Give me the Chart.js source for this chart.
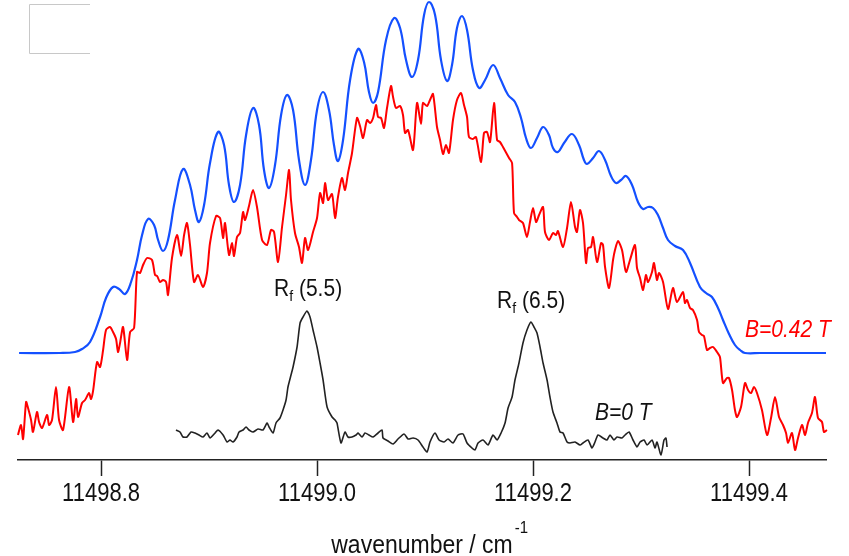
<!DOCTYPE html>
<html>
<head>
<meta charset="utf-8">
<script src="https://cdn.jsdelivr.net/npm/chart.js@4.4.1/dist/chart.umd.min.js"></script>
<style>
  html, body { margin: 0; padding: 0; background: #fff; }
  canvas { display: block; }
</style>
</head>
<body>
<canvas id="myChart" width="849" height="556"></canvas>
<script>
// simulated spectrum, B = 0.42 T (blue)
let simWavenumber = [11498.7241, 11498.7620, 11498.7759, 11498.7824, 11498.7898, 11498.7991, 11498.8046, 11498.8111, 11498.8167, 11498.8222,
    11498.8278, 11498.8333, 11498.8380, 11498.8435, 11498.8491, 11498.8528, 11498.8574, 11498.8620, 11498.8685, 11498.8759,
    11498.8824, 11498.8870, 11498.8907, 11498.8954, 11498.9009, 11498.9083, 11498.9139, 11498.9185, 11498.9231, 11498.9287,
    11498.9343, 11498.9407, 11498.9463, 11498.9509, 11498.9556, 11498.9611, 11498.9667, 11498.9722, 11498.9778, 11498.9833,
    11498.9889, 11498.9944, 11499.0000, 11499.0056, 11499.0111, 11499.0157, 11499.0194, 11499.0241, 11499.0306, 11499.0380,
    11499.0435, 11499.0481, 11499.0519, 11499.0565, 11499.0639, 11499.0713, 11499.0769, 11499.0824, 11499.0880, 11499.0935,
    11499.0991, 11499.1037, 11499.1093, 11499.1148, 11499.1204, 11499.1250, 11499.1296, 11499.1343, 11499.1389, 11499.1444,
    11499.1500, 11499.1556, 11499.1630, 11499.1694, 11499.1769, 11499.1833, 11499.1889, 11499.1935, 11499.1981, 11499.2037,
    11499.2093, 11499.2148, 11499.2185, 11499.2231, 11499.2287, 11499.2361, 11499.2426, 11499.2472, 11499.2500, 11499.2556,
    11499.2611, 11499.2667, 11499.2722, 11499.2769, 11499.2815, 11499.2861, 11499.2917, 11499.2972, 11499.3019, 11499.3065,
    11499.3111, 11499.3157, 11499.3204, 11499.3250, 11499.3315, 11499.3389, 11499.3454, 11499.3546, 11499.3602, 11499.3657,
    11499.3713, 11499.3759, 11499.3815, 11499.3870, 11499.3917, 11499.3963, 11499.4102, 11499.4713];
let simSignal = [107, 107, 108, 111, 118, 143, 162, 173, 171, 166,
    178, 200, 225, 241, 235, 220, 209, 220, 260, 291,
    275, 250, 238, 255, 297, 328, 315, 275, 258, 275,
    325, 352, 335, 290, 272, 295, 345, 365, 350, 300,
    275, 300, 350, 368, 350, 315, 299, 320, 380, 411,
    398, 368, 357, 368, 420, 442, 432, 400, 383, 400,
    445, 458, 445, 400, 379, 395, 432, 444, 430, 390,
    372, 380, 395, 382, 365, 358, 342, 322, 312, 322,
    333, 325, 312, 308, 317, 326, 315, 300, 296, 302,
    309, 300, 284, 277, 280, 284, 275, 258, 251, 253,
    252, 245, 232, 220, 214, 210, 197, 173, 167, 163,
    152, 140, 126, 115, 110, 107, 107, 107];

// measured spectrum, B = 0.42 T (red)
let expWavenumber = [11498.7231, 11498.7259, 11498.7278, 11498.7306, 11498.7324, 11498.7352, 11498.7370, 11498.7407, 11498.7426, 11498.7454,
    11498.7500, 11498.7519, 11498.7546, 11498.7583, 11498.7611, 11498.7648, 11498.7704, 11498.7741, 11498.7769, 11498.7787,
    11498.7824, 11498.7852, 11498.7889, 11498.7907, 11498.7926, 11498.7963, 11498.7991, 11498.8019, 11498.8046, 11498.8083,
    11498.8111, 11498.8139, 11498.8157, 11498.8176, 11498.8204, 11498.8241, 11498.8269, 11498.8306, 11498.8333, 11498.8361,
    11498.8389, 11498.8426, 11498.8472, 11498.8500, 11498.8519, 11498.8546, 11498.8574, 11498.8602, 11498.8620, 11498.8657,
    11498.8704, 11498.8741, 11498.8769, 11498.8796, 11498.8824, 11498.8861, 11498.8898, 11498.8944, 11498.8981, 11498.9009,
    11498.9065, 11498.9102, 11498.9130, 11498.9148, 11498.9185, 11498.9213, 11498.9231, 11498.9259, 11498.9287, 11498.9315,
    11498.9333, 11498.9370, 11498.9407, 11498.9444, 11498.9491, 11498.9537, 11498.9574, 11498.9602, 11498.9639, 11498.9676,
    11498.9713, 11498.9741, 11498.9759, 11498.9796, 11498.9833, 11498.9861, 11498.9889, 11498.9917, 11498.9963, 11499.0000,
    11499.0028, 11499.0056, 11499.0074, 11499.0102, 11499.0139, 11499.0167, 11499.0194, 11499.0231, 11499.0259, 11499.0287,
    11499.0324, 11499.0370, 11499.0398, 11499.0426, 11499.0463, 11499.0491, 11499.0519, 11499.0546, 11499.0565, 11499.0593,
    11499.0620, 11499.0648, 11499.0685, 11499.0704, 11499.0731, 11499.0769, 11499.0796, 11499.0815, 11499.0843, 11499.0889,
    11499.0926, 11499.0963, 11499.0981, 11499.1019, 11499.1046, 11499.1074, 11499.1111, 11499.1139, 11499.1167, 11499.1194,
    11499.1222, 11499.1259, 11499.1296, 11499.1333, 11499.1361, 11499.1389, 11499.1407, 11499.1444, 11499.1472, 11499.1519,
    11499.1546, 11499.1574, 11499.1602, 11499.1639, 11499.1667, 11499.1694, 11499.1722, 11499.1778, 11499.1806, 11499.1824,
    11499.1852, 11499.1870, 11499.1907, 11499.1944, 11499.1972, 11499.2000, 11499.2028, 11499.2056, 11499.2093, 11499.2111,
    11499.2148, 11499.2185, 11499.2213, 11499.2231, 11499.2278, 11499.2315, 11499.2352, 11499.2389, 11499.2407, 11499.2435,
    11499.2463, 11499.2491, 11499.2509, 11499.2537, 11499.2556, 11499.2593, 11499.2630, 11499.2648, 11499.2667, 11499.2704,
    11499.2741, 11499.2759, 11499.2787, 11499.2824, 11499.2861, 11499.2898, 11499.2944, 11499.2963, 11499.2991, 11499.3019,
    11499.3046, 11499.3065, 11499.3102, 11499.3120, 11499.3148, 11499.3167, 11499.3204, 11499.3250, 11499.3296, 11499.3333,
    11499.3389, 11499.3407, 11499.3426, 11499.3454, 11499.3481, 11499.3519, 11499.3537, 11499.3565, 11499.3583, 11499.3611,
    11499.3639, 11499.3667, 11499.3704, 11499.3731, 11499.3759, 11499.3796, 11499.3815, 11499.3843, 11499.3870, 11499.3889,
    11499.3926, 11499.3963, 11499.3991, 11499.4019, 11499.4046, 11499.4074, 11499.4120, 11499.4167, 11499.4204, 11499.4241,
    11499.4278, 11499.4315, 11499.4343, 11499.4361, 11499.4398, 11499.4426, 11499.4454, 11499.4491, 11499.4519, 11499.4546,
    11499.4583, 11499.4611, 11499.4639, 11499.4676, 11499.4694, 11499.4722];
let expSignal = [25, 35, 21, 58, 52, 40, 28, 48, 38, 32,
    45, 35, 40, 73, 40, 30, 73, 38, 61, 43,
    57, 60, 67, 61, 69, 98, 93, 110, 130, 133,
    128, 121, 108, 117, 133, 100, 128, 132, 188, 187,
    195, 202, 200, 185, 184, 178, 180, 178, 165, 202,
    225, 204, 225, 237, 215, 178, 185, 173, 187, 217,
    244, 242, 222, 237, 205, 217, 204, 223, 227, 248,
    240, 254, 270, 253, 220, 215, 230, 228, 198, 233,
    265, 290, 260, 227, 213, 197, 222, 210, 228, 242,
    267, 257, 277, 260, 266, 242, 263, 282, 270, 287,
    307, 342, 334, 322, 340, 337, 342, 355, 343, 342,
    332, 352, 374, 363, 352, 354, 345, 327, 330, 310,
    357, 336, 357, 354, 360, 366, 333, 320, 306, 315,
    307, 340, 360, 367, 355, 343, 323, 321, 323, 298,
    327, 328, 318, 357, 320, 318, 313, 302, 297, 247,
    243, 240, 237, 223, 238, 252, 238, 245, 253, 228,
    220, 227, 225, 229, 213, 232, 258, 233, 228, 250,
    237, 197, 212, 213, 223, 198, 217, 215, 193, 172,
    200, 210, 219, 210, 188, 200, 215, 192, 182, 170,
    185, 178, 188, 197, 180, 187, 178, 151, 172, 158,
    168, 157, 160, 152, 150, 140, 128, 125, 124, 110,
    112, 113, 108, 103, 77, 82, 82, 70, 50, 43,
    53, 77, 70, 67, 73, 67, 50, 25, 42, 63,
    43, 35, 27, 17, 27, 10, 22, 35, 25, 37,
    47, 63, 42, 38, 28, 30];

// measured spectrum, B = 0 T (black)
let zeroWavenumber = [11498.8694, 11498.8731, 11498.8759, 11498.8796, 11498.8833, 11498.8870, 11498.8907, 11498.8944, 11498.8981, 11498.9009,
    11498.9056, 11498.9083, 11498.9130, 11498.9167, 11498.9194, 11498.9222, 11498.9259, 11498.9278, 11498.9315, 11498.9343,
    11498.9370, 11498.9407, 11498.9454, 11498.9500, 11498.9537, 11498.9556, 11498.9593, 11498.9620, 11498.9657, 11498.9685,
    11498.9713, 11498.9731, 11498.9759, 11498.9778, 11498.9815, 11498.9843, 11498.9870, 11498.9907, 11498.9935, 11498.9963,
    11499.0000, 11499.0028, 11499.0056, 11499.0093, 11499.0139, 11499.0167, 11499.0185, 11499.0222, 11499.0259, 11499.0287,
    11499.0324, 11499.0361, 11499.0380, 11499.0417, 11499.0444, 11499.0481, 11499.0519, 11499.0565, 11499.0602, 11499.0611,
    11499.0657, 11499.0704, 11499.0750, 11499.0806, 11499.0843, 11499.0889, 11499.0935, 11499.0981, 11499.1019, 11499.1046,
    11499.1093, 11499.1130, 11499.1176, 11499.1213, 11499.1259, 11499.1306, 11499.1352, 11499.1389, 11499.1435, 11499.1463,
    11499.1491, 11499.1537, 11499.1583, 11499.1630, 11499.1667, 11499.1704, 11499.1741, 11499.1769, 11499.1806, 11499.1833,
    11499.1870, 11499.1907, 11499.1944, 11499.1981, 11499.2009, 11499.2037, 11499.2065, 11499.2093, 11499.2130, 11499.2157,
    11499.2185, 11499.2222, 11499.2250, 11499.2278, 11499.2315, 11499.2343, 11499.2389, 11499.2435, 11499.2463, 11499.2509,
    11499.2546, 11499.2574, 11499.2602, 11499.2648, 11499.2685, 11499.2713, 11499.2750, 11499.2778, 11499.2824, 11499.2852,
    11499.2889, 11499.2926, 11499.2963, 11499.2991, 11499.3028, 11499.3056, 11499.3102, 11499.3130, 11499.3148, 11499.3185,
    11499.3213, 11499.3231, 11499.3241];
let zeroSignal = [30, 28, 23, 23, 28, 27, 25, 23, 27, 22,
    27, 30, 25, 18, 20, 18, 23, 28, 30, 33,
    30, 28, 31, 30, 37, 33, 27, 37, 42, 50,
    60, 73, 85, 93, 113, 137, 143, 149, 143, 130,
    113, 97, 80, 53, 43, 40, 37, 17, 28, 23,
    23, 25, 27, 23, 27, 25, 23, 27, 30, 22,
    19, 16, 21, 26, 21, 22, 20, 13, 8, 18,
    27, 20, 18, 21, 17, 25, 26, 17, 12, 10,
    17, 20, 15, 25, 20, 27, 37, 52, 63, 80,
    97, 117, 130, 138, 133, 127, 113, 97, 80, 63,
    48, 37, 28, 27, 18, 17, 18, 15, 17, 20,
    12, 18, 25, 22, 20, 25, 20, 23, 22, 25,
    28, 20, 13, 18, 20, 15, 20, 12, 18, 5,
    20, 22, 13];

let xTicks = [11498.8, 11499.0, 11499.2, 11499.4];

(function () {
    function toPoints(xs, ys) {
        return xs.map(function (x, i) { return { x: x, y: ys[i] }; });
    }

    // text slightly stretched upward, like the original export
    function tallText(ctx, text, x, y, sy) {
        ctx.save();
        ctx.translate(x, y);
        ctx.scale(1, sy);
        ctx.fillText(text, 0, 0);
        ctx.restore();
    }

    function drawRf(ctx, x, y, num) {
        ctx.font = '21px "Liberation Sans", Arial, sans-serif';
        tallText(ctx, 'R', x, y, 1.1);
        let w = ctx.measureText('R').width;
        ctx.font = '14px "Liberation Sans", Arial, sans-serif';
        tallText(ctx, 'f', x + w, y + 5, 1.1);
        let w2 = ctx.measureText('f').width;
        ctx.font = '21px "Liberation Sans", Arial, sans-serif';
        tallText(ctx, ' (' + num + ')', x + w + w2, y, 1.1);
    }

    let decorations = {
        id: 'decorations',
        afterDraw: function (chart) {
            let ctx = chart.ctx;
            let xs = chart.scales.x;
            let ys = chart.scales.y;
            ctx.save();

            // empty legend frame
            ctx.strokeStyle = '#c8c8c8';
            ctx.lineWidth = 1;
            ctx.beginPath();
            ctx.moveTo(90, 4.5);
            ctx.lineTo(29.5, 4.5);
            ctx.lineTo(29.5, 53.5);
            ctx.lineTo(90, 53.5);
            ctx.stroke();

            ctx.textBaseline = 'alphabetic';
            ctx.textAlign = 'left';
            ctx.fillStyle = '#111';
            drawRf(ctx, xs.getPixelForValue(11498.9602), ys.getPixelForValue(164), '5.5');
            drawRf(ctx, xs.getPixelForValue(11499.1667), ys.getPixelForValue(152), '6.5');

            ctx.font = 'italic 21px "Liberation Sans", Arial, sans-serif';
            tallText(ctx, 'B=0 T', xs.getPixelForValue(11499.2574), ys.getPixelForValue(40), 1.1);
            ctx.fillStyle = '#ff0000';
            tallText(ctx, 'B=0.42 T', xs.getPixelForValue(11499.3963), ys.getPixelForValue(123), 1.1);

            // tick labels
            ctx.fillStyle = '#111';
            ctx.textAlign = 'center';
            ctx.font = '22px "Liberation Sans", Arial, sans-serif';
            xTicks.forEach(function (v) {
                tallText(ctx, v.toFixed(1), xs.getPixelForValue(v), 501, 1.15);
            });

            // axis title with superscript
            ctx.textAlign = 'left';
            ctx.font = '23px "Liberation Sans", Arial, sans-serif';
            let title = 'wavenumber / cm';
            let tw = ctx.measureText(title).width;
            let cx = (xs.left + xs.right) / 2;
            tallText(ctx, title, cx - tw / 2, 553, 1.1);
            ctx.font = '15px "Liberation Sans", Arial, sans-serif';
            tallText(ctx, '-1', cx + tw / 2 + 2, 533, 1.1);
            ctx.restore();
        }
    };

    let ctx = document.getElementById('myChart').getContext('2d');
    let myChart = new Chart(ctx, {
        type: 'scatter',
        data: {
            datasets: [{
                label: 'simulation',
                data: toPoints(simWavenumber, simSignal),
                borderColor: '#1450ff',
                borderWidth: 2.2,
                tension: 0.4,
            }, {
                label: 'B=0.42 T',
                data: toPoints(expWavenumber, expSignal),
                borderColor: '#ff0000',
                borderWidth: 2,
                tension: 0.25,
            }, {
                label: 'B=0 T',
                data: toPoints(zeroWavenumber, zeroSignal),
                borderColor: '#222222',
                borderWidth: 1.6,
                tension: 0.2,
            }]
        },
        options: {
            responsive: false,
            animation: false,
            devicePixelRatio: 1,
            showLine: true,
            clip: false,
            elements: {
                point: { radius: 0, hoverRadius: 0 }
            },
            layout: {
                padding: { left: 18, right: 23, top: 0, bottom: 0 }
            },
            plugins: {
                legend: { display: false },
                tooltip: { enabled: false }
            },
            scales: {
                x: {
                    type: 'linear',
                    min: 11498.7231,
                    max: 11499.4713,
                    afterBuildTicks: function (scale) {
                        scale.ticks = xTicks.map(function (v) { return { value: v }; });
                    },
                    afterFit: function (scale) {
                        scale.height = 96;
                    },
                    ticks: {
                        display: false,
                        autoSkip: false,
                        maxRotation: 0
                    },
                    grid: {
                        drawOnChartArea: false,
                        drawTicks: true,
                        tickLength: 16,
                        tickWidth: 1.5,
                        tickColor: '#222'
                    },
                    border: { display: true, color: '#222', width: 1.5 }
                },
                y: {
                    display: false,
                    min: 0,
                    max: 460
                }
            }
        },
        plugins: [decorations]
    });
})();
</script>
</body>
</html>
